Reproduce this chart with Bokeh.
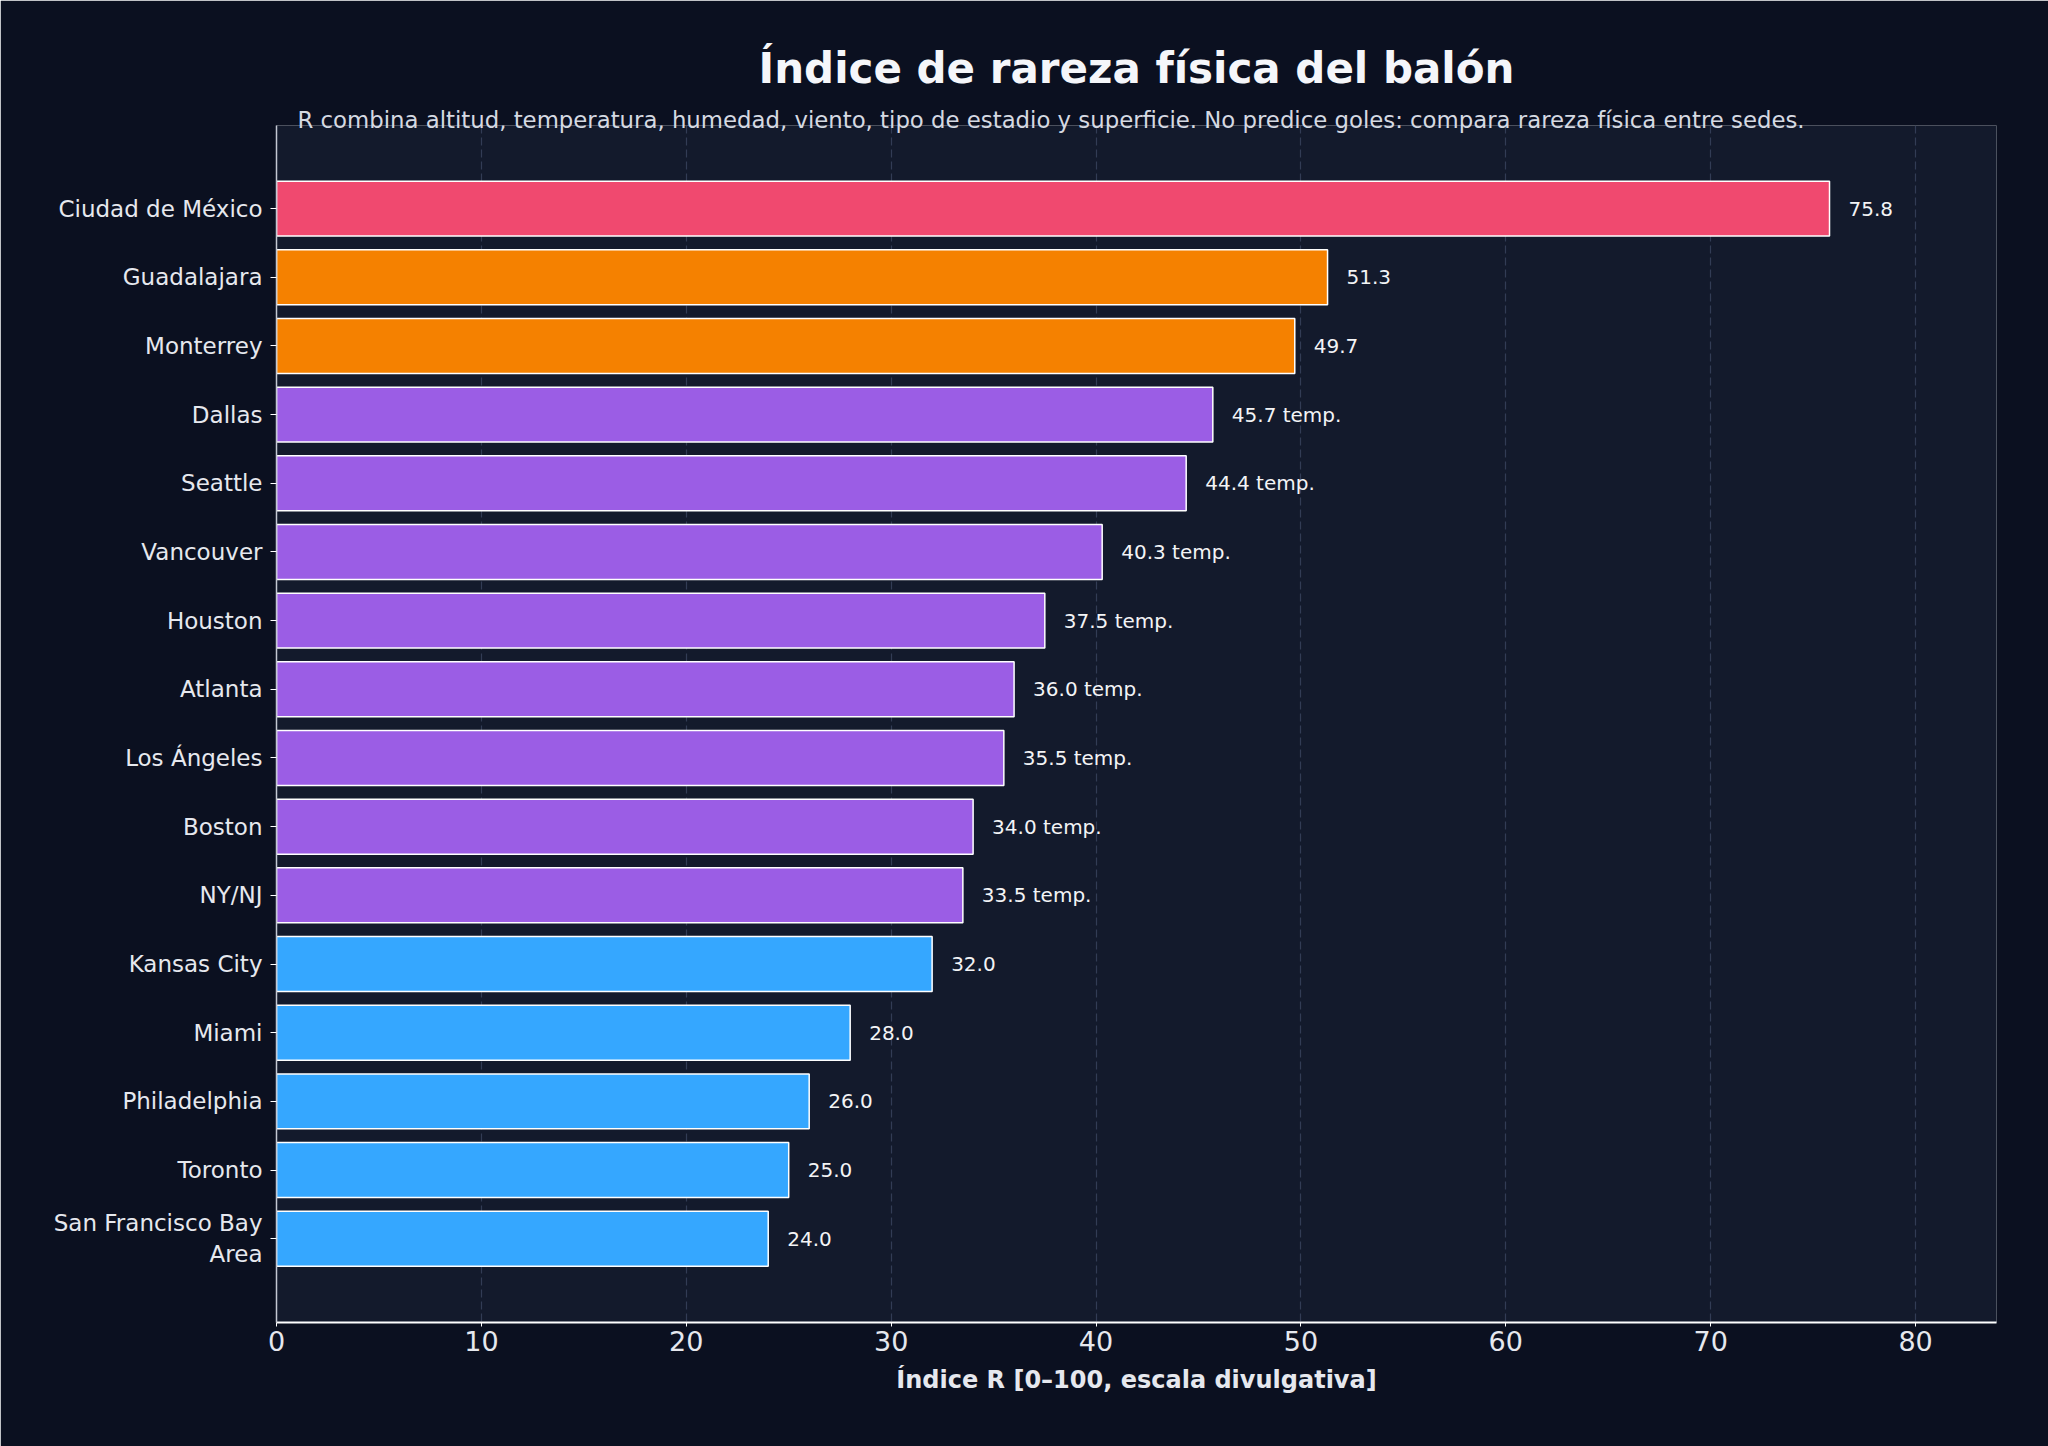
from bokeh.plotting import figure
from bokeh.models import Range1d, Title, FixedTicker, ColumnDataSource
from bokeh.embed import file_html
from bokeh.resources import INLINE
from bokeh.core.properties import value

# Sedes ordenadas de mayor a menor índice R
sedes = [
    "Ciudad de México", "Guadalajara", "Monterrey", "Dallas", "Seattle",
    "Vancouver", "Houston", "Atlanta", "Los Ángeles", "Boston", "NY/NJ",
    "Kansas City", "Miami", "Philadelphia", "Toronto", "San Francisco Bay\nArea",
]
indice_r = [75.8, 51.3, 49.7, 45.7, 44.4, 40.3, 37.5, 36.0, 35.5, 34.0, 33.5,
            32.0, 28.0, 26.0, 25.0, 24.0]
grupo = ["extrema", "alta", "alta", "temporal", "temporal", "temporal",
         "temporal", "temporal", "temporal", "temporal", "temporal",
         "base", "base", "base", "base", "base"]
x_ticks = [0, 10, 20, 30, 40, 50, 60, 70, 80]

colores_grupo = {
    "extrema": "#f0496f",
    "alta": "#f58100",
    "temporal": "#9b5de5",
    "base": "#35a7ff",
}

BG = "#0b1020"
PANEL = "#131a2c"
TXT = "#e6e8ee"
FONT = "DejaVu Sans"

pos = list(range(len(sedes)))
etiquetas = [f"{v:.1f}" + (" temp." if g == "temporal" else "")
             for v, g in zip(indice_r, grupo)]
src = ColumnDataSource(dict(
    y=pos, r=indice_r, color=[colores_grupo[g] for g in grupo], txt=etiquetas,
))

p = figure(
    width=2048, height=1446,
    output_backend="svg", toolbar_location=None,
    x_range=Range1d(0, 83.95), y_range=Range1d(16.22, -1.21),
    min_border_left=276, min_border_right=52,
    min_border_top=125, min_border_bottom=124,
    background_fill_color=PANEL, border_fill_color=BG,
    outline_line_color=None,
)

p.hbar(y="y", left=0, right="r", height=0.8, source=src,
       fill_color="color", line_color="white", line_width=1.5)

p.text(x="r", y="y", text="txt", source=src, x_offset=19,
       text_align="left", text_baseline="middle",
       text_font=value(FONT), text_font_size="20px", text_color="#f3f4f6")

# Ejes
p.xaxis.ticker = FixedTicker(ticks=x_ticks)
p.xaxis.axis_label = "Índice R [0–100, escala divulgativa]"
p.xaxis.axis_label_text_font = FONT
p.xaxis.axis_label_text_font_style = "bold"
p.xaxis.axis_label_text_font_size = "24px"
p.xaxis.axis_label_text_color = TXT
p.xaxis.axis_label_standoff = 12
p.xaxis.major_label_text_font = FONT
p.xaxis.major_label_text_font_size = "27px"
p.xaxis.major_label_text_color = TXT
p.xaxis.major_label_standoff = 4
p.xaxis.axis_line_color = "white"
p.xaxis.axis_line_width = 2
p.xaxis.major_tick_line_color = "white"
p.xaxis.major_tick_out = 4
p.xaxis.major_tick_in = 0
p.xaxis.minor_tick_line_color = None

p.yaxis.ticker = FixedTicker(ticks=pos)
p.yaxis.major_label_overrides = {i: s for i, s in enumerate(sedes)}
p.yaxis.major_label_text_font = FONT
p.yaxis.major_label_text_font_size = "23px"
p.yaxis.major_label_text_color = TXT
p.yaxis.major_label_standoff = 8
p.yaxis.axis_line_color = "#c3c8d2"
p.yaxis.axis_line_width = 1.5
p.yaxis.major_tick_line_color = "white"
p.yaxis.major_tick_out = 6
p.yaxis.major_tick_in = 0
p.yaxis.minor_tick_line_color = None

p.ygrid.grid_line_color = None
p.xgrid.grid_line_color = "#323c55"
p.xgrid.grid_line_dash = "8 4"
p.xgrid.grid_line_width = 1.2

# Subtítulo (pegado al marco) y título principal por encima
p.add_layout(Title(
    text="R combina altitud, temperatura, humedad, viento, tipo de estadio y "
         "superficie. No predice goles: compara rareza física entre sedes.",
    align="left", offset=21, standoff=-14, text_font=FONT,
    text_font_style="normal", text_font_size="22.8px", text_color="#d5d9e2",
), "above")
p.add_layout(Title(
    text="Índice de rareza física del balón", align="center", standoff=38,
    text_font=FONT, text_font_style="bold", text_font_size="42px",
    text_color="#f5f6fa",
), "above")

open("out.html", "w").write(file_html(p, INLINE))
